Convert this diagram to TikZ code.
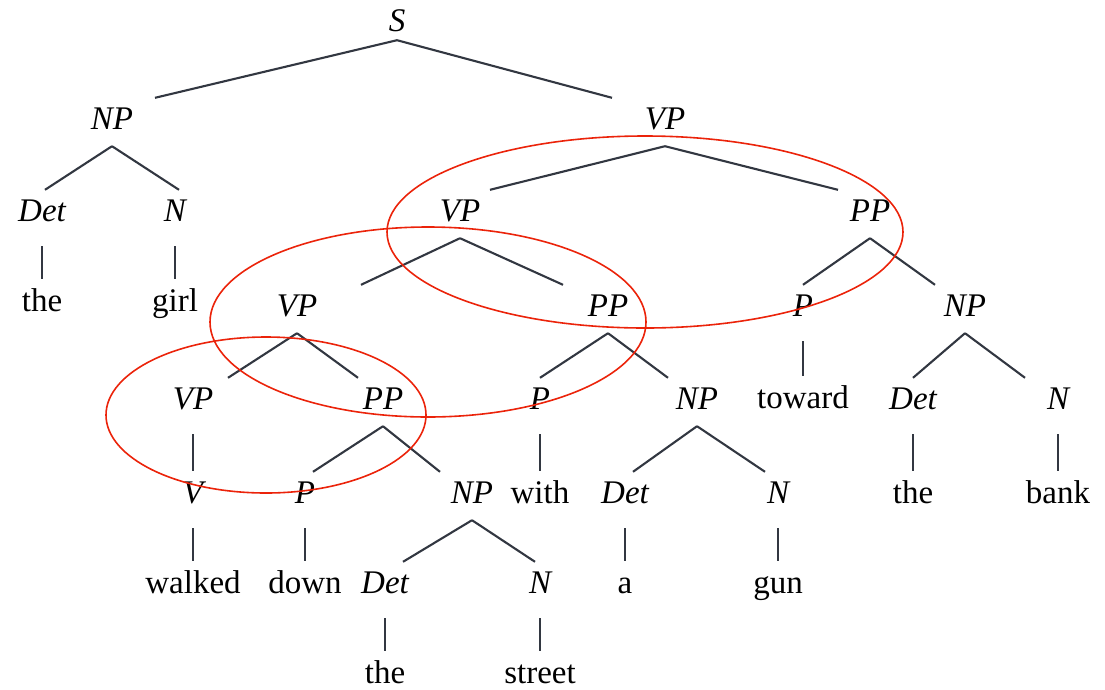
\documentclass[tikz,border=0pt]{standalone}
\usepackage{fontspec}
\setmainfont{Liberation Serif}
\usetikzlibrary{calc}
\definecolor{treeline}{RGB}{50,55,65}
\definecolor{ringred}{RGB}{235,35,10}
\newcommand\br[3]{\draw[edge] ([yshift=-17pt]#1.south) -- ([xshift=#3pt,yshift=9pt]#2.north);}
\newcommand\un[2]{\draw[edge] ([yshift=-25pt]#1.south) -- ([yshift=10pt]#2.north);}
\begin{document}
\begin{tikzpicture}[x=1pt,y=-1pt,
  lab/.style={inner sep=0pt,anchor=base,text height=22pt,text depth=0pt,font=\fontsize{33}{38}\selectfont},
  cat/.style={lab,font=\fontsize{33}{38}\selectfont\itshape},
  wd/.style={lab},
  edge/.style={draw=treeline,line width=2.1pt},
  ring/.style={draw=ringred,line width=1.6pt}]
\useasboundingbox (0,0) rectangle (1105,689);
% row 1-2
\node[cat] (S) at (397,31) {S};
\node[cat] (np1) at (112,129) {NP};
\node[cat] (vp1) at (665,129) {VP};
% row 3
\node[cat] (det1) at (42,221) {Det};
\node[cat] (n1) at (175,221) {N};
\node[cat] (vp2) at (460,221) {VP};
\node[cat] (pp2) at (870,221) {PP};
% row 4
\node[wd] (the1) at (42,311) {the};
\node[wd] (girl) at (175,311) {girl};
\node[cat] (vp3) at (297,316) {VP};
\node[cat] (pp3) at (608,316) {PP};
\node[cat] (p2) at (803,316) {P};
\node[cat] (np2) at (965,316) {NP};
% row 5
\node[cat] (vp4) at (193,409) {VP};
\node[cat] (pp4) at (383,409) {PP};
\node[cat] (p3) at (540,409) {P};
\node[cat] (np3) at (697,409) {NP};
\node[wd] (toward) at (803,408) {toward};
\node[cat] (det2) at (913,409) {Det};
\node[cat] (n2) at (1058,409) {N};
% row 6
\node[cat] (v) at (193,503) {V};
\node[cat] (p4) at (305,503) {P};
\node[cat] (np4) at (472,503) {NP};
\node[wd] (with) at (540,503) {with};
\node[cat] (det3) at (625,503) {Det};
\node[cat] (n3) at (778,503) {N};
\node[wd] (the2) at (913,503) {the};
\node[wd] (bank) at (1058,503) {bank};
% row 7
\node[wd] (walked) at (193,593) {walked};
\node[wd] (down) at (305,593) {down};
\node[cat] (det4) at (385,593) {Det};
\node[cat] (n4) at (540,593) {N};
\node[wd] (a) at (625,593) {a};
\node[wd] (gun) at (778,593) {gun};
% row 8
\node[wd] (the3) at (385,683) {the};
\node[wd] (street) at (540,683) {street};
% branching edges
\draw[edge] ([yshift=-9pt]S.south) -- ([xshift=43pt,yshift=9pt]np1.north);
\draw[edge] ([yshift=-9pt]S.south) -- ([xshift=-53pt,yshift=9pt]vp1.north);
\br{np1}{det1}{3} \br{np1}{n1}{4}
\br{vp1}{vp2}{30} \br{vp1}{pp2}{-32}
\br{vp2}{vp3}{64} \br{vp2}{pp3}{-45}
\br{pp2}{p2}{0} \br{pp2}{np2}{-30}
\br{vp3}{vp4}{35} \br{vp3}{pp4}{-25}
\br{pp3}{p3}{0} \br{pp3}{np3}{-29}
\br{np2}{det2}{0} \br{np2}{n2}{-33}
\br{pp4}{p4}{8} \br{pp4}{np4}{-32}
\br{np3}{det3}{8} \br{np3}{n3}{-13}
\br{np4}{det4}{18} \br{np4}{n4}{-5}
% unary edges
\un{det1}{the1} \un{n1}{girl}
\un{p2}{toward}
\un{det2}{the2} \un{n2}{bank}
\un{vp4}{v} \un{v}{walked}
\un{p4}{down} \un{p3}{with}
\un{det3}{a} \un{n3}{gun}
\un{det4}{the3} \un{n4}{street}
% rings
\draw[ring] (645,232) ellipse [x radius=258pt, y radius=96pt];
\draw[ring] (428,322) ellipse [x radius=218pt, y radius=95pt];
\draw[ring] (266,415) ellipse [x radius=160pt, y radius=78pt];
\end{tikzpicture}
\end{document}
